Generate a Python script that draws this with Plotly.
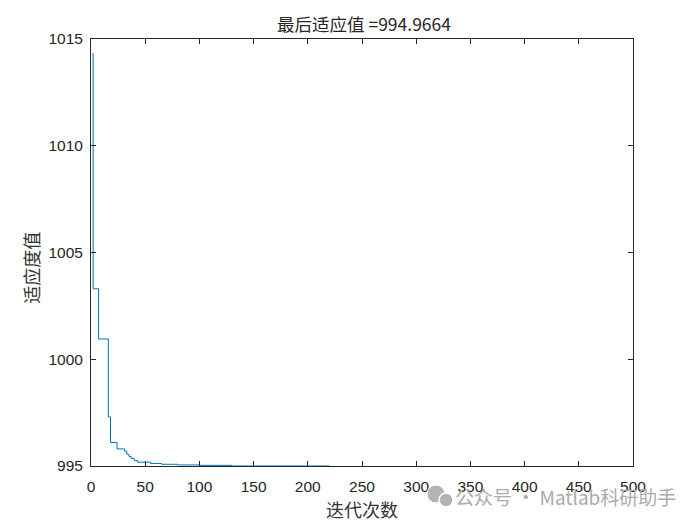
import plotly.graph_objects as go

# best-so-far fitness: iterations where the value changes, and the held value
change_iters = [1, 2, 7, 16, 18, 24, 31, 33, 35, 37, 40, 43, 55, 65, 80, 100, 130, 220, 500]
change_vals = [1014.3, 1003.3, 1000.95, 997.3, 996.1, 995.8, 995.7, 995.55, 995.45,
               995.35, 995.25, 995.18, 995.12, 995.08, 995.05, 995.03, 995.0, 994.97, 994.9664]

x_ticks = [0, 50, 100, 150, 200, 250, 300, 350, 400, 450, 500]
y_ticks = [995, 1000, 1005, 1010, 1015]

title_text = "最后适应值 =994.9664"
x_label = "迭代次数"
y_label = "适应度值"
watermark = "公众号 · Matlab科研助手"

fig = go.Figure()
fig.add_trace(go.Scatter(
    x=change_iters, y=change_vals, mode="lines", line_shape="hv",
    line=dict(color="#0072BD", width=1), showlegend=False, hoverinfo="skip"))

axis_common = dict(
    showgrid=False, zeroline=False, showline=True, linecolor="#262626", linewidth=1,
    mirror="ticks", ticks="inside", ticklen=5, tickcolor="#262626", tickwidth=1,
    automargin=False,
    tickfont=dict(family="Liberation Sans, Arial", size=15.5, color="#262626"),
)

# page body has an 8px margin, so the figure is sized/offset to compensate
fig.update_layout(
    width=692, height=517,
    paper_bgcolor="white", plot_bgcolor="white",
    margin=dict(l=83, r=67, t=31, b=59, autoexpand=False),
    title=dict(text=title_text, x=356 / 692, xanchor="center", y=1 - 17 / 517, yanchor="middle",
               font=dict(family="Noto Sans CJK SC, Liberation Sans", size=17.5, color="#262626")),
    xaxis=dict(range=[0, 500], tickvals=x_ticks, ticklabelstandoff=6, **axis_common),
    yaxis=dict(range=[995, 1015], tickvals=y_ticks, ticklabelstandoff=4, **axis_common),
)

fig.add_annotation(text=x_label, xref="paper", yref="paper", x=0.5, y=-0.1007,
                   xanchor="center", yanchor="middle", showarrow=False,
                   font=dict(family="Noto Sans CJK SC", size=18, color="#333333"))
fig.add_annotation(text=y_label, xref="paper", yref="paper", x=-0.111, y=0.4637,
                   xanchor="center", yanchor="middle", showarrow=False, textangle=-90,
                   font=dict(family="Noto Sans CJK SC", size=18, color="#333333"))
fig.add_annotation(text=watermark, xref="paper", yref="paper", x=1.083, y=-0.0703,
                   xanchor="right", yanchor="middle", showarrow=False,
                   font=dict(family="Noto Sans CJK SC", size=19, color="#ABABAB"))

# small speech-bubble icon of the watermark
fig.add_shape(type="circle", xref="paper", yref="paper", x0=0.6199, x1=0.6531,
              y0=-0.0867, y1=-0.0445, fillcolor="#B3B3B3", line=dict(color="white", width=1))
fig.add_shape(type="circle", xref="paper", yref="paper", x0=0.6421, x1=0.6679,
              y0=-0.0960, y1=-0.0632, fillcolor="#B3B3B3", line=dict(color="white", width=1.5))

fig.write_html("out.html")
